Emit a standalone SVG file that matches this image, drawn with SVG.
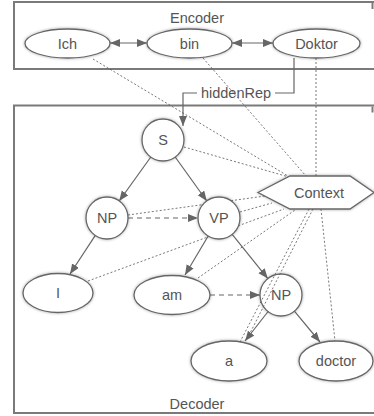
<svg xmlns="http://www.w3.org/2000/svg" width="374" height="416" viewBox="0 0 374 416">
<style>
text{font-family:"Liberation Sans",Arial,sans-serif;font-size:14.5px;fill:#555;text-anchor:middle}
.box{fill:none;stroke:#7a7a7a;stroke-width:2}
.nd{fill:#fff;stroke:#666;stroke-width:1.3;filter:url(#sh)}
.e{fill:none;stroke:#666;stroke-width:1.2}
.arr{marker-end:url(#ah)}
.dash{stroke-dasharray:5,4}
.dot{fill:none;stroke:#555;stroke-width:0.8;stroke-dasharray:2,2}
</style>
<defs>
<filter id="sh" x="-30%" y="-30%" width="160%" height="160%">
<feDropShadow dx="0" dy="0" stdDeviation="1.4" flood-color="#000" flood-opacity="0.35"/>
</filter>
<marker id="ah" markerUnits="userSpaceOnUse" markerWidth="11" markerHeight="9" refX="10" refY="4" orient="auto-start-reverse">
<path d="M0,0 L10,4 L0,8 z" fill="#666"/>
</marker>
</defs>
<rect fill="#fff" width="374" height="416"/>
<g id="encoder-cluster">
<rect class="box" x="14" y="2" width="380" height="67"/>
<path class="box" d="M372.5,3 v6" stroke-width="1.2"/>
<text x="197" y="23">Encoder</text>
</g>
<g id="decoder-cluster">
<rect class="box" x="14" y="105.5" width="380" height="307.5"/>
<path class="box" d="M372.5,106.5 v6" stroke-width="1.2"/>
<text x="197" y="409">Decoder</text>
</g>
<g id="connectors">
<path class="e arr" d="M110,43 H147" marker-start="url(#ah)"/>
<path class="e arr" d="M232,43 H273" marker-start="url(#ah)"/>
<path class="e" d="M294,58 V93 H275"/>
<path class="e arr" d="M197,93 H183 V126"/>
<text x="236" y="97.5">hiddenRep</text>
<path class="e arr" d="M150.8,157 L119.2,201"/>
<path class="e arr" d="M175.2,157 L206.8,201"/>
<path class="e arr dash" d="M128,218 H198"/>
<path class="e arr" d="M95.3,235.4 L70,274"/>
<path class="e arr" d="M208.2,236 L185,275"/>
<path class="e arr" d="M232.2,234.4 L267.8,278.6"/>
<path class="e arr dash" d="M210,295 H260"/>
<path class="e arr" d="M268.1,311.5 L245,341"/>
<path class="e arr" d="M294.4,311.2 L320,342"/>
<path class="dot" d="M93,59 L288,176"/>
<path class="dot" d="M203,58 L306,176"/>
<path class="dot" d="M316,58 V176"/>
<path class="dot" d="M184,147 L289,177"/>
<path class="dot" d="M128,215 L265,196"/>
<path class="dot" d="M240,212 L272,203"/>
<path class="dot" d="M88,281 L284,209"/>
<path class="dot" d="M198,278 L295,210"/>
<path class="dot" d="M321,209 L335,341"/>
</g>
<g id="Ich"><ellipse class="nd" cx="67.5" cy="43.5" rx="42.5" ry="14.5"/><text x="67.5" y="48.5">Ich</text></g>
<g id="bin"><ellipse class="nd" cx="189.5" cy="43.5" rx="42.5" ry="14.5"/><text x="189.5" y="48.5">bin</text></g>
<g id="Doktor"><ellipse class="nd" cx="316.5" cy="43.5" rx="43.5" ry="14.5"/><text x="316.5" y="48.5">Doktor</text></g>
<g id="S"><circle class="nd" cx="163" cy="140" r="21"/><text x="163" y="145">S</text></g>
<g id="NP1"><circle class="nd" cx="107" cy="218" r="21"/><text x="107" y="223">NP</text></g>
<g id="VP"><circle class="nd" cx="219" cy="218" r="21"/><text x="219" y="223">VP</text></g>
<g id="Context"><polygon class="nd" points="258,192.5 290,176 350,176 374,192.5 350,209 290,209"/><text x="319" y="197.5">Context</text></g>
<g id="I"><ellipse class="nd" cx="58" cy="293" rx="35" ry="19.5"/><text x="58" y="298">I</text></g>
<g id="am"><ellipse class="nd" cx="172" cy="295" rx="38" ry="19.5"/><text x="172" y="300">am</text></g>
<g id="NP2"><circle class="nd" cx="281" cy="295" r="21"/><text x="281" y="300">NP</text></g>
<g id="a"><ellipse class="nd" cx="229" cy="361" rx="38" ry="20"/><text x="229" y="366">a</text></g>
<g id="doctor"><ellipse class="nd" cx="336" cy="361" rx="37" ry="20"/><text x="336" y="366">doctor</text></g>
<g id="connectors-over">
<path class="dot" d="M309,209 L240,342"/>
<path class="dot" d="M313,209 L246,341"/>
</g>
</svg>
